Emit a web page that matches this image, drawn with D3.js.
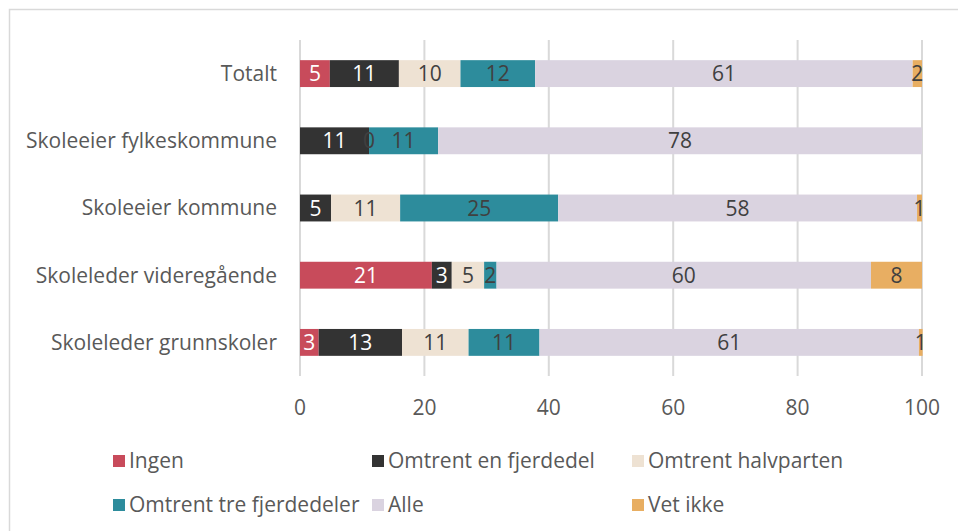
<!doctype html>
<html>
<head>
    <meta charset="utf-8">
    <title>chart</title>
    <script src="https://d3js.org/d3.v7.min.js"></script>
    <style>
        body { margin: 0; background: #fff; }
        text { font-family: "Open Sans", sans-serif; }
    </style>
</head>
<body>
<script>

    // categories (top to bottom) and series
    var categories = ['Totalt', 'Skoleeier fylkeskommune', 'Skoleeier kommune',
                      'Skoleleder videregående', 'Skoleleder grunnskoler'];
    var seriesNames = ['Ingen', 'Omtrent en fjerdedel', 'Omtrent halvparten',
                       'Omtrent tre fjerdedeler', 'Alle', 'Vet ikke'];
    var seriesColors = ['#C84B5B', '#333333', '#EEE2D3', '#2D8C9C', '#DAD3E0', '#E8AE62'];
    var labelColors = ['#ffffff', '#ffffff', '#404040', '#404040', '#404040', '#404040'];

    // values per series, one per category (null = no value)
    var ingen        = [4.8, null, null, 21.2, 3.0];
    var fjerdedel    = [11.1, 11.1, 5.0, 3.2, 13.4];
    var halvparten   = [9.9, 0, 11.1, 5.2, 10.7];
    var treFjerdedel = [12.0, 11.1, 25.4, 2.0, 11.4];
    var alle         = [60.7, 77.8, 57.7, 60.2, 61.0];
    var vetIkke      = [1.5, null, 0.8, 8.2, 0.6];

    var xTicks = [0, 20, 40, 60, 80, 100];

    var seriesValues = [ingen, fjerdedel, halvparten, treFjerdedel, alle, vetIkke];

    var width = 958, height = 531;
    var fontSize = 21;
    var svg = d3.select('body').append('svg')
                .attr('width', width)
                .attr('height', height);

    // outer frame
    svg.append('path')
       .attr('d', 'M9.5,' + height + 'V9.5H' + width)
       .attr('fill', 'none')
       .attr('stroke', '#d9d9d9')
       .attr('stroke-width', 1.5);

    var plotLeft = 300, plotRight = 922, plotTop = 40, plotBottom = 376;

    var xScale = d3.scaleLinear().domain([0, 100]).range([plotLeft, plotRight]);
    var yScale = d3.scaleBand().domain(categories).range([plotTop, plotBottom]).paddingInner(0.6).paddingOuter(0.3);

    // gridlines
    svg.append('g').selectAll('line')
       .data(xTicks)
       .enter().append('line')
       .attr('x1', function(d) { return xScale(d); })
       .attr('x2', function(d) { return xScale(d); })
       .attr('y1', plotTop)
       .attr('y2', plotBottom)
       .attr('stroke', '#d9d9d9')
       .attr('stroke-width', 2);

    // tick labels
    svg.append('g').selectAll('text')
       .data(xTicks)
       .enter().append('text')
       .attr('x', function(d) { return xScale(d); })
       .attr('y', 415)
       .attr('text-anchor', 'middle')
       .attr('font-size', fontSize)
       .attr('fill', '#595959')
       .text(function(d) { return d; });

    // category labels
    svg.append('g').selectAll('text')
       .data(categories)
       .enter().append('text')
       .attr('x', 277)
       .attr('y', function(d) { return yScale(d) + yScale.bandwidth() / 2; })
       .attr('dy', '0.35em')
       .attr('text-anchor', 'end')
       .attr('font-size', fontSize)
       .attr('fill', '#595959')
       .text(function(d) { return d; });

    // stacked segments
    var segments = [];
    categories.forEach(function(cat, ci) {
        var start = 0;
        seriesValues.forEach(function(vals, si) {
            var v = vals[ci];
            if (v === null) return;
            segments.push({ cat: cat, series: si, x0: start, x1: start + v, value: v });
            start += v;
        });
    });

    var bars = svg.append('g');
    bars.selectAll('rect')
        .data(segments)
        .enter().append('rect')
        .attr('x', function(d) { return xScale(d.x0); })
        .attr('width', function(d) { return xScale(d.x1) - xScale(d.x0); })
        .attr('y', function(d) { return yScale(d.cat); })
        .attr('height', yScale.bandwidth())
        .attr('fill', function(d) { return seriesColors[d.series]; });

    bars.selectAll('text')
        .data(segments)
        .enter().append('text')
        .attr('x', function(d) { return xScale((d.x0 + d.x1) / 2); })
        .attr('y', function(d) { return yScale(d.cat) + yScale.bandwidth() / 2; })
        .attr('dy', '0.36em')
        .attr('text-anchor', 'middle')
        .attr('font-size', fontSize)
        .attr('fill', function(d) { return labelColors[d.series]; })
        .text(function(d) { return Math.round(d.value); });

    // legend
    var legendX = [113, 372, 632];
    var legendY = [461, 505];
    var legend = svg.append('g').selectAll('g')
        .data(seriesNames)
        .enter().append('g')
        .attr('transform', function(d, i) {
            return 'translate(' + legendX[i % 3] + ',' + legendY[Math.floor(i / 3)] + ')';
        });

    legend.append('rect')
        .attr('x', 0)
        .attr('y', -6)
        .attr('width', 12)
        .attr('height', 12)
        .attr('fill', function(d, i) { return seriesColors[i]; });

    legend.append('text')
        .attr('x', 16)
        .attr('dy', '0.35em')
        .attr('font-size', fontSize)
        .attr('fill', '#595959')
        .text(function(d) { return d; });

</script>
</body>
</html>
